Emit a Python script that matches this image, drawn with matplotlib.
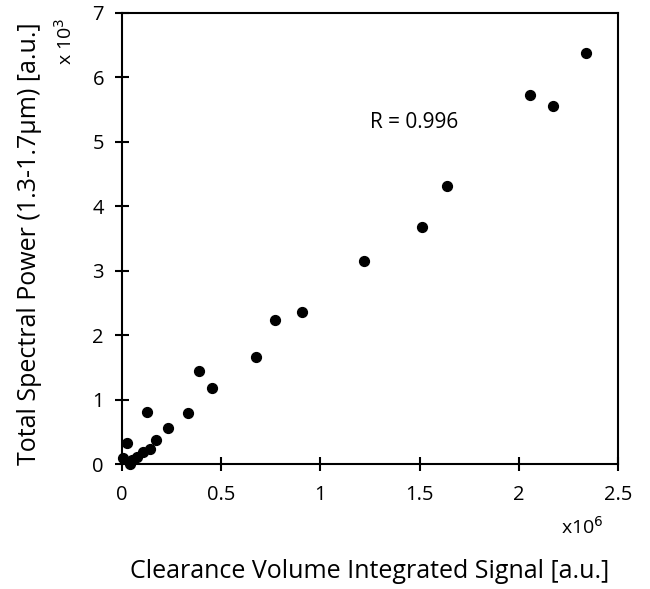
import matplotlib
matplotlib.use("Agg")
import matplotlib.pyplot as plt

plt.rcParams['font.family'] = ['Open Sans', 'DejaVu Sans']

# x in units of 1e6, y in units of 1e3
clearance = [0.007, 0.024, 0.040, 0.049, 0.074, 0.104, 0.124, 0.141, 0.171,
             0.233, 0.334, 0.390, 0.452, 0.675, 0.771, 0.907, 1.22, 1.51,
             1.637, 2.058, 2.174, 2.339]
power = [0.10, 0.32, 0.00, 0.06, 0.11, 0.18, 0.80, 0.23, 0.37,
         0.56, 0.79, 1.44, 1.18, 1.66, 2.24, 2.36, 3.15, 3.68,
         4.32, 5.72, 5.55, 6.38]
r_text = "R = 0.996"

fig = plt.figure(figsize=(6.5, 5.89), dpi=100)
ax = fig.add_axes([0.1877, 0.2122, 0.7633, 0.7658])
ax.scatter(clearance, power, s=50, color='black', zorder=3, clip_on=False)

ax.set_xlim(0, 2.5)
ax.set_ylim(0, 7)
ax.set_xticks([0, 0.5, 1, 1.5, 2, 2.5])
ax.set_xticklabels(['0', '0.5', '1', '1.5', '2', '2.5'])
ax.set_yticks(range(8))
ax.tick_params(direction='inout', length=10, width=1.5, labelsize=14.5,
               colors='black')
ax.tick_params(axis='x', pad=10)
ax.tick_params(axis='y', pad=8)
for sp in ax.spines.values():
    sp.set_linewidth(1.5)

ax.text(1.25, 5.3, r_text, fontsize=15, va='center', ha='left')

fig.text(0.10, 0.93, r'x 10$^3$', rotation=90, fontsize=14, ha='center', va='center')
fig.text(0.895, 0.105, r'x10$^6$', fontsize=14, ha='center', va='center')
fig.text(0.046, 0.587, 'Total Spectral Power (1.3-1.7μm) [a.u.]', rotation=90,
         fontsize=18, ha='center', va='center')
fig.text(0.569, 0.029, 'Clearance Volume Integrated Signal [a.u.]',
         fontsize=18, ha='center', va='center')

fig.savefig('out.png', dpi=100)
